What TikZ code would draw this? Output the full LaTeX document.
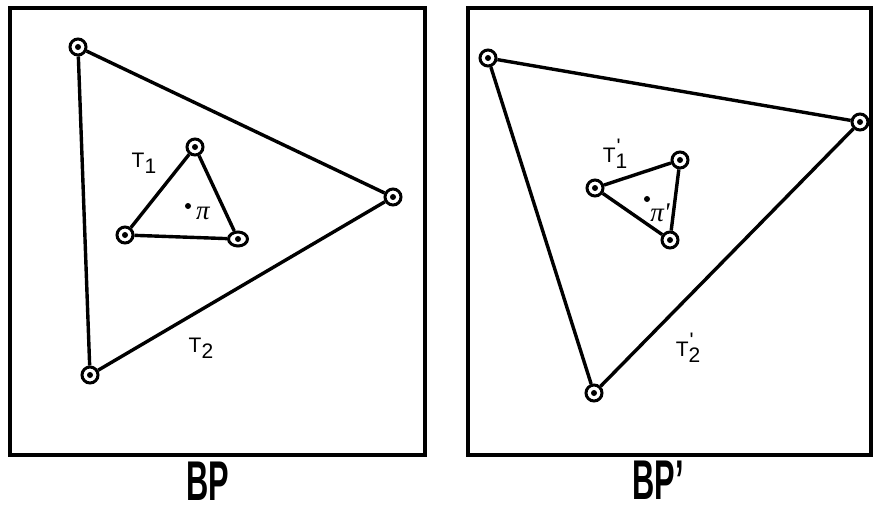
\documentclass[tikz,border=0pt]{standalone}
\usepackage{fontspec}
\setmainfont{Liberation Sans}
\newfontfamily\grk{Liberation Serif}
\usetikzlibrary{positioning, shapes.geometric}
\newcommand{\tsub}[1]{T\raisebox{-0.55ex}{#1}}
\newcommand{\tsubp}[1]{T\raisebox{-0.55ex}{\makebox[0pt][l]{\raisebox{1.35ex}{\hspace{1pt}\textquotesingle}}#1}}

\begin{document}
\begin{tikzpicture}[
        x=1pt, y=-1pt,
        frame/.style={line width=4pt},
        edge/.style={line width=3.4pt},
        vtx/.style={circle, draw, line width=3pt, minimum size=16pt, inner sep=0pt, fill=white},
        vtxwide/.style={vtx, ellipse, minimum width=19pt, minimum height=14pt},
        dot/.style={circle, fill, minimum size=6pt, inner sep=0pt},
        lbl/.style={font=\fontsize{21}{21}\selectfont, inner sep=0pt},
        pilbl/.style={font=\fontsize{27}{27}\selectfont\grk\itshape, inner sep=0pt},
        title/.style={font=\fontsize{56}{56}\selectfont\bfseries, inner sep=0pt}
    ]
        \useasboundingbox (0,0) rectangle (875,506);

        % panel BP
        \draw[frame] (10,7.5) rectangle (425,455);
        \node[vtx] (A1) at (78,47) {};
        \node[vtx] (B1) at (393,197) {};
        \node[vtx] (C1) at (90,375) {};
        \node[vtx] (a1) at (195,147) {};
        \node[vtx] (b1) at (125,235) {};
        \node[vtxwide] (c1) at (238,239) {};
        \node[dot] (pi1) at (188,206) {};
        \node[pilbl] (pilab1) at (203,213) {π};
        \node[lbl] (T1) at (144,163) {\tsub{1}};
        \node[lbl] (T2) at (201,348) {\tsub{2}};
        \node[title] (BP) at (208,481) {\scalebox{0.55}[1]{BP}};

        \draw[edge] (A1) -- (B1);
        \draw[edge] (B1) -- (C1);
        \draw[edge] (C1) -- (A1);
        \draw[edge] (a1) -- (b1);
        \draw[edge] (b1) -- (c1);
        \draw[edge] (c1) -- (a1);

        % panel BP'
        \draw[frame] (468,7.5) rectangle (871,455);
        \node[vtx] (A2) at (488,58) {};
        \node[vtx] (B2) at (860,122) {};
        \node[vtx] (C2) at (594,393) {};
        \node[vtx] (a2) at (680,160) {};
        \node[vtx] (b2) at (595,188) {};
        \node[vtx] (c2) at (670,240) {};
        \node[dot] (pi2) at (647,199) {};
        \node[pilbl] (pilab2) at (660,213) {π\textquotesingle};
        \node[lbl] (T1p) at (615,154) {\tsubp{1}};
        \node[lbl] (T2p) at (688,348) {\tsubp{2}};
        \node[title] (BPp) at (658,480) {\scalebox{0.55}[1]{BP’}};

        \draw[edge] (A2) -- (B2);
        \draw[edge] (B2) -- (C2);
        \draw[edge] (C2) -- (A2);
        \draw[edge] (a2) -- (b2);
        \draw[edge] (b2) -- (c2);
        \draw[edge] (c2) -- (a2);

        % centre dots of the vertex rings
        \foreach \v in {A1, B1, C1, a1, b1, c1, A2, B2, C2, a2, b2, c2}
            \fill (\v) circle (3pt);
    \end{tikzpicture}
\end{document}
